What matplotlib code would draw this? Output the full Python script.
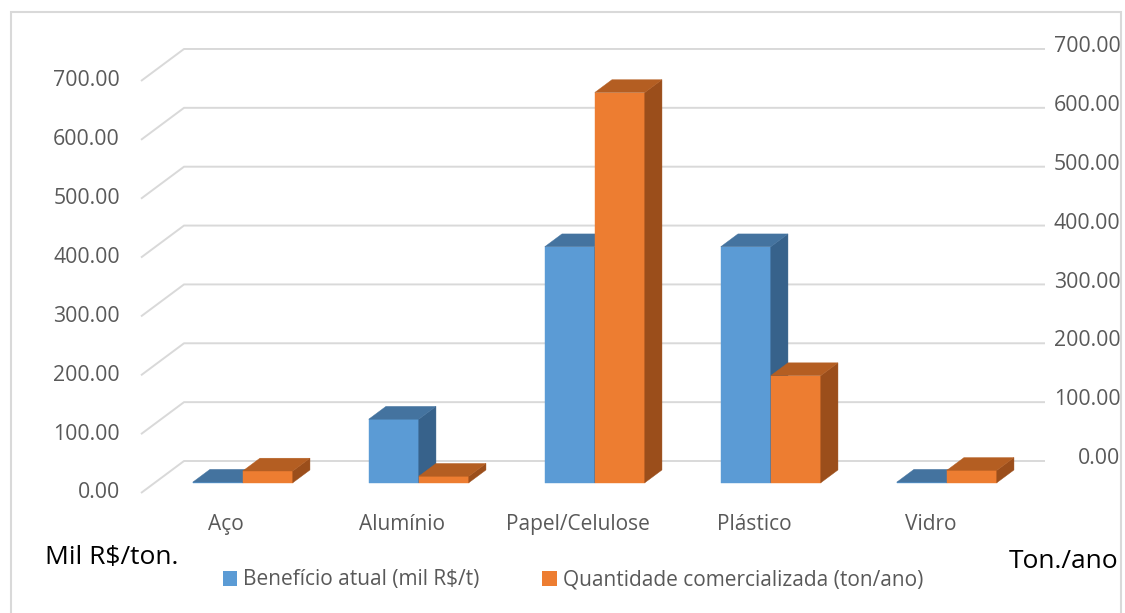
import matplotlib
matplotlib.use("Agg")
import matplotlib.pyplot as plt
from matplotlib.patches import Polygon, Patch, Rectangle

plt.rcParams['font.family'] = ['Open Sans', 'DejaVu Sans']

categorias = ["Aço", "Alumínio", "Papel/Celulose", "Plástico", "Vidro"]
beneficio = [1, 108, 401, 401, 1]          # mil R$/t
quantidade = [20, 11, 663, 182, 21]         # ton/ano
ticks = [0, 100, 200, 300, 400, 500, 600, 700]
serie_nomes = ["Benefício atual (mil R$/t)", "Quantidade comercializada (ton/ano)"]

# face colours: front, top, side
azul = ("#5B9BD5", "#44739F", "#37628B")
laranja = ("#ED7D31", "#B45E22", "#9B4E1B")
cinza_txt = "#595959"

W, H = 1125, 613
fig = plt.figure(figsize=(W / 100, H / 100), dpi=100)
ax = fig.add_axes([0, 0, 1, 1])

# axes units: x = category index, y = value; one category = 176 px, one unit = 0.5886 px
px_cat = 176.0
px_val = 0.5886
x0_px, y0_px = 229.0, 493.0
ax.set_xlim(-x0_px / px_cat, (W - x0_px) / px_cat)
ax.set_ylim(-(H - y0_px) / px_val, y0_px / px_val)
ax.axis("off")

# oblique depth vector (front plane -> back wall)
dx, dy = 43 / px_cat, 32 / px_val
bar_front, bar_depth = 0.32, 0.40
bar_w = 50 / px_cat
grid_end = (1045 - x0_px) / px_cat

# gridlines: diagonal on the left side wall + horizontal on the back wall
for t in ticks:
    ax.plot([-0.5, -0.5 + dx, grid_end], [t, t + dy, t + dy],
            color="#D9D9D9", lw=1.4, solid_capstyle="butt", zorder=1)
    ax.text(-0.62, t, f"{t:.2f}", ha="right", va="center",
            fontsize=15.3, color=cinza_txt)
    ax.text(5.065, t + dy + 4, f"{t:.2f}", ha="right", va="center",
            fontsize=15.3, color=cinza_txt)


def barra(xl, h, cores, z):
    ox, oy = bar_front * dx, bar_front * dy
    ddx, ddy = bar_depth * dx, bar_depth * dy
    xr = xl + bar_w
    frente = [(xl + ox, oy), (xr + ox, oy), (xr + ox, h + oy), (xl + ox, h + oy)]
    topo = [(xl + ox, h + oy), (xr + ox, h + oy),
            (xr + ox + ddx, h + oy + ddy), (xl + ox + ddx, h + oy + ddy)]
    lado = [(xr + ox, oy), (xr + ox + ddx, oy + ddy),
            (xr + ox + ddx, h + oy + ddy), (xr + ox, h + oy)]
    for pts, c in ((frente, cores[0]), (lado, cores[2]), (topo, cores[1])):
        ax.add_patch(Polygon(pts, closed=True, facecolor=c, edgecolor=c,
                             lw=0.3, zorder=z))


for i, nome in enumerate(categorias):
    barra(i - bar_w, beneficio[i], azul, 3 + i * 2)
    barra(i, quantidade[i], laranja, 4 + i * 2)
    ax.text(i - 0.015, -53, nome, ha="center", va="center",
            fontsize=15, color=cinza_txt)

# unit captions
fig.text(45 / W, 1 - 557 / H, "Mil R$/ton.", ha="left", va="center",
         fontsize=19, color="black")
fig.text(1118 / W, 1 - 562 / H, "Ton./ano", ha="right", va="center",
         fontsize=19, color="black")

handles = [Patch(facecolor=azul[0]), Patch(facecolor=laranja[0])]
fig.legend(handles, serie_nomes, loc="center", bbox_to_anchor=(573 / W, 1 - 580 / H),
           ncol=2, frameon=False, fontsize=15, handlelength=0.7, handleheight=0.7,
           handletextpad=0.3, columnspacing=3.0, labelcolor=cinza_txt)

# chart area border
fig.add_artist(Rectangle((11 / W, -0.05), (1121 - 11) / W, (1 - 12 / H) + 0.05,
                         transform=fig.transFigure, fill=False,
                         edgecolor="#D9D9D9", lw=1.5, zorder=10))

fig.savefig("out.png", dpi=100)
